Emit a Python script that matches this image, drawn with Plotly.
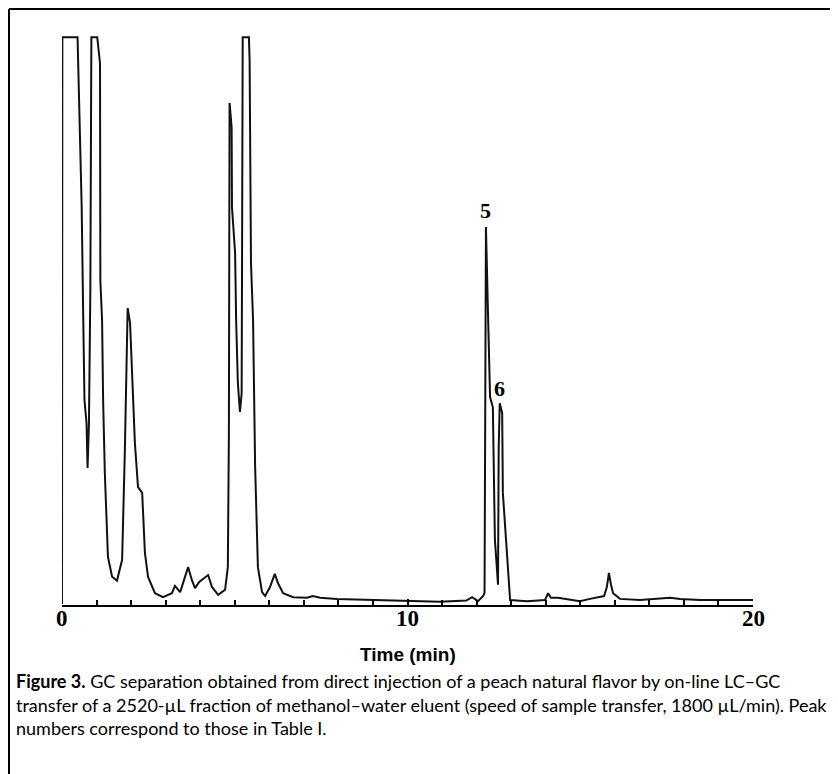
import plotly.graph_objects as go

# Chromatogram (time in min, detector signal in % of full scale)
time_min = [0.00, 0.01, 0.45, 0.57, 0.61, 0.65, 0.71, 0.74, 0.78, 0.82, 0.84, 0.85, 1.02,
            1.10, 1.11, 1.16, 1.19, 1.24, 1.33, 1.45, 1.59, 1.74, 1.82, 1.85, 1.90, 1.97,
            2.03, 2.11, 2.20, 2.32, 2.40, 2.49, 2.69, 2.92, 3.18, 3.27, 3.42, 3.53, 3.65,
            3.76, 3.85, 3.97, 4.23, 4.34, 4.52, 4.72, 4.80, 4.83, 4.84, 4.85, 4.91, 4.92,
            5.01, 5.04, 5.09, 5.15, 5.20, 5.21, 5.22, 5.23, 5.41, 5.43, 5.47, 5.53, 5.59,
            5.67, 5.79, 5.88, 6.02, 6.16, 6.25, 6.40, 6.69, 7.09, 7.26, 7.47, 7.96, 9.20,
            10.94, 11.70, 11.87, 12.04, 12.19, 12.23, 12.26, 12.27, 12.33, 12.39, 12.47,
            12.53, 12.62, 12.64, 12.67, 12.74, 12.76, 12.85, 12.91, 12.97, 13.46, 13.98,
            14.07, 14.15, 14.36, 14.99, 15.28, 15.69, 15.77, 15.83, 15.89, 15.95, 16.15,
            16.73, 17.60, 17.89, 18.47, 20.00]
signal = [0, 100, 100, 70.0, 52.4, 36.0, 31.9, 24.0, 31.9, 55.0, 85.0, 100, 100,
          95.4, 57.1, 50.1, 36.0, 23.1, 8.3, 4.8, 4.1, 7.8, 27.2, 36.0, 52.2, 49.6,
          39.0, 28.4, 20.6, 19.6, 9.0, 4.8, 1.9, 1.2, 1.9, 3.2, 2.1, 4.2, 6.5,
          4.2, 2.8, 3.9, 5.1, 3.0, 1.6, 2.5, 6.5, 30.0, 60.0, 88.4, 84.1, 70.0,
          61.9, 50.1, 39.0, 33.9, 37.2, 53.6, 75.0, 100, 100, 95.9, 60.1, 50.1, 24.2,
          6.5, 2.1, 1.4, 3.0, 5.3, 3.7, 1.9, 1.2, 1.1, 1.4, 1.1, 0.9, 0.7,
          0.4, 0.6, 1.2, 0.5, 1.4, 2.0, 36.0, 66.5, 51.3, 36.5, 34.7,
          11.3, 3.4, 27.7, 35.4, 33.7, 19.6, 10.8, 4.8, 0.7, 0.5, 0.7,
          1.9, 1.1, 1.1, 0.5, 0.9, 1.4, 3.0, 5.5, 3.4, 1.9, 0.9,
          0.7, 1.1, 0.9, 0.7, 0.7]

peak_labels = ["5", "6"]
peak_times = [12.27, 12.67]
peak_heights = [66.5, 35.4]

x_ticks = [0, 10, 20]
x_title = "Time (min)"
caption_lines = [
    "<b>Figure 3.</b> GC separation obtained from direct injection of a peach natural flavor by on-line LC\u2013GC",
    "transfer of a 2520-\u00b5L fraction of methanol\u2013water eluent (speed of sample transfer, 1800 \u00b5L/min). Peak",
    "numbers correspond to those in Table I.",
]

# page offset: the html body has an 8px margin
OFF = 8
PAGE_W, PAGE_H = 838, 774
W, H = PAGE_W - OFF, PAGE_H - OFF
# plot area in page pixels: x 62..753, y 36..605
ML = 62 - OFF
MT = 36 - OFF
MR = PAGE_W - 753
MB = PAGE_H - 605
PW, PH = W - ML - MR, H - MT - MB


def px_x(px):
    return (px - OFF - ML) / PW


def px_y(py):
    return (H - MB - (py - OFF)) / PH


fig = go.Figure()
fig.add_trace(go.Scatter(x=time_min, y=signal, mode="lines",
                         line=dict(color="#111111", width=2),
                         hoverinfo="skip", showlegend=False))

annotations = []
for lab, t, h, sh in zip(peak_labels, peak_times, peak_heights, [2, 0]):
    annotations.append(dict(x=t, y=h, xref="x", yref="y", text="<b>%s</b>" % lab,
                            showarrow=False, yanchor="bottom", yshift=sh,
                            font=dict(family="Liberation Serif", size=22, color="black")))

for v in x_ticks:
    annotations.append(dict(x=v, y=px_y(618), xref="x", yref="paper",
                            text="<b>%d</b>" % v, showarrow=False,
                            xanchor="center", yanchor="middle",
                            font=dict(family="Liberation Serif", size=23, color="black")))

annotations.append(dict(x=0.5, y=px_y(654), xref="paper", yref="paper",
                        text="<b>%s</b>" % x_title, showarrow=False,
                        xanchor="center", yanchor="middle",
                        font=dict(family="Liberation Sans", size=19, color="black")))

for i, line in enumerate(caption_lines):
    annotations.append(dict(x=px_x(14), y=px_y(681 + 23.5 * i), xref="paper", yref="paper",
                            text=line, showarrow=False, xanchor="left", yanchor="middle",
                            font=dict(family="Lato", size=18, color="black")))

shapes = [
    dict(type="line", xref="paper", yref="paper", x0=px_x(9), x1=px_x(9),
         y0=px_y(9), y1=px_y(PAGE_H + 5), line=dict(color="black", width=2)),
    dict(type="line", xref="paper", yref="paper", x0=px_x(9), x1=px_x(PAGE_W + 5),
         y0=px_y(9), y1=px_y(9), line=dict(color="black", width=2)),
]

fig.update_layout(
    width=W, height=H,
    margin=dict(l=ML, r=MR, t=MT, b=MB, pad=0),
    paper_bgcolor="white", plot_bgcolor="white",
    showlegend=False,
    annotations=annotations,
    shapes=shapes,
    xaxis=dict(range=[0, 20], tickvals=x_ticks, showticklabels=False,
               ticks="inside", ticklen=6, tickwidth=1.5, tickcolor="black",
               showline=True, linewidth=2, linecolor="black",
               showgrid=False, zeroline=False,
               minor=dict(dtick=1, ticks="inside", ticklen=5, tickwidth=1.5,
                          tickcolor="black", showgrid=False)),
    yaxis=dict(range=[-0.18, 100.2], visible=False, showgrid=False, zeroline=False),
)

fig.write_html("out.html")
